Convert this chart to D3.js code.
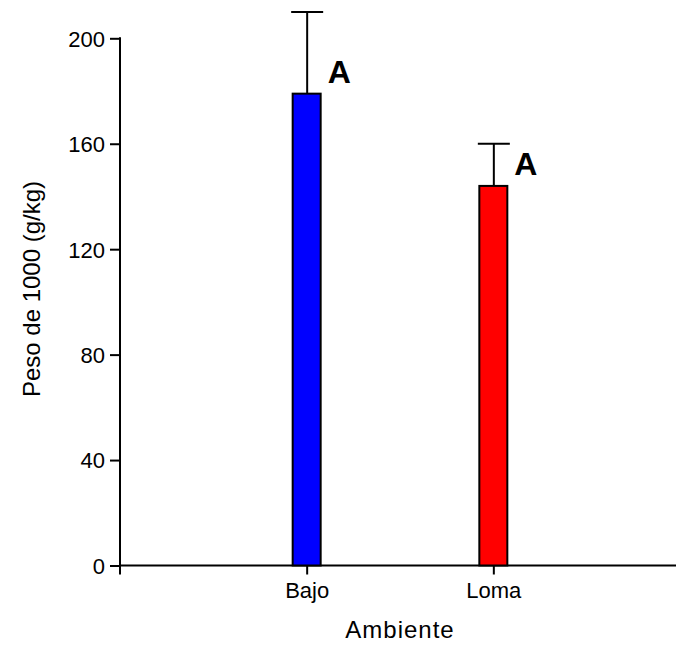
<!DOCTYPE html>
<html><head><meta charset="utf-8">
<script src="https://cdn.jsdelivr.net/npm/d3@7"></script>
<style>body{margin:0;background:#fff}svg{display:block}text{font-family:"Liberation Sans",Arial,sans-serif;fill:#000}</style>
</head><body>
<script>
const categories = ["Bajo", "Loma"];
const means = [179, 144];
const errors = [31, 16];
const letters = ["A", "A"];
const colors = ["#0000ff", "#ff0000"];
const yTicks = [0, 40, 80, 120, 160, 200];

const W = 676, H = 645;
const svg = d3.select("body").append("svg").attr("width", W).attr("height", H);
const x0 = 120, y0 = 565.5;
const y = d3.scaleLinear().domain([0, 200]).range([y0, 38.3]);
const x = d3.scalePoint().domain(categories).range([x0, 680]).padding(1);
const bw = 28;

// y axis
const ya = svg.append("g").attr("transform", `translate(${x0},0)`)
  .call(d3.axisLeft(y).tickValues(yTicks).tickSize(10).tickPadding(5).tickSizeOuter(0));
ya.select(".domain").remove();
ya.selectAll(".tick line").attr("stroke", "#000").attr("stroke-width", 2);
ya.selectAll(".tick text").style("font-size", "22px").attr("font-family", null).attr("dy", "0.36em");
svg.append("line").attr("x1", x0).attr("x2", x0).attr("y1", y(200) - 1).attr("y2", y0 + 9)
  .attr("stroke", "#000").attr("stroke-width", 2);

// x axis
const xa = svg.append("g").attr("transform", `translate(0,${y0})`)
  .call(d3.axisBottom(x).tickSize(9).tickPadding(8).tickSizeOuter(0));
xa.select(".domain").remove();
xa.selectAll(".tick line").attr("stroke", "#000").attr("stroke-width", 2);
xa.selectAll(".tick text").style("font-size", "22px").attr("font-family", null);
svg.append("line").attr("x1", x0 - 1).attr("x2", W).attr("y1", y0).attr("y2", y0)
  .attr("stroke", "#000").attr("stroke-width", 2);

// error bars
const g = svg.append("g");
categories.forEach((c, i) => {
  const cx = x(c) + 0.5;
  g.append("line").attr("x1", cx).attr("x2", cx).attr("y1", y(means[i])).attr("y2", y(means[i] + errors[i]))
    .attr("stroke", "#000").attr("stroke-width", 2);
  g.append("line").attr("x1", cx - 16).attr("x2", cx + 16).attr("y1", y(means[i] + errors[i])).attr("y2", y(means[i] + errors[i]))
    .attr("stroke", "#000").attr("stroke-width", 2);
});

// bars
g.selectAll("rect.bar").data(categories).join("rect").attr("class", "bar")
  .attr("x", d => x(d) - bw / 2).attr("width", bw)
  .attr("y", (d, i) => y(means[i])).attr("height", (d, i) => y0 - y(means[i]))
  .attr("fill", (d, i) => colors[i]).attr("stroke", "#000").attr("stroke-width", 2);

// letters
g.selectAll("text.let").data(categories).join("text").attr("class", "let")
  .attr("x", d => x(d) + bw / 2 + 7)
  .attr("y", (d, i) => y(means[i]) - 11)
  .style("font-size", "32px").style("font-weight", "bold")
  .text((d, i) => letters[i]);

// titles
svg.append("text").attr("x", 400).attr("y", 637.5).attr("text-anchor", "middle")
  .style("font-size", "24px").style("letter-spacing", "1px").text("Ambiente");
svg.append("text").attr("transform", `translate(40,289) rotate(-90)`).attr("text-anchor", "middle")
  .style("font-size", "24px").text("Peso de 1000 (g/kg)");
</script>
</body></html>
